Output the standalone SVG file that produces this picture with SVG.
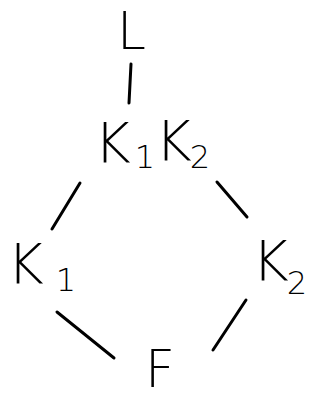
<svg xmlns="http://www.w3.org/2000/svg" width="320" height="400" viewBox="0 0 320 400">
<style>
.t{font-family:"DejaVu Sans","Liberation Sans",sans-serif;font-weight:200;fill:#000}
.m{font-size:56px}
.s{font-size:32px}
.b{font-size:52px}
.e{stroke:#000;stroke-width:3;stroke-linecap:round;fill:none}
</style>
<rect width="320" height="400" fill="#fff"/>
<g id="connectors">
<line class="e" x1="131" y1="64" x2="129" y2="103"/>
<line class="e" x1="80" y1="183" x2="52" y2="229"/>
<line class="e" x1="217" y1="182" x2="247" y2="217"/>
<line class="e" x1="57" y1="312" x2="114" y2="358"/>
<line class="e" x1="246" y1="300" x2="213" y2="350"/>
</g>
<g id="L"><text class="t b" x="117" y="49">L</text></g>
<g id="K1K2"><text class="t m" x="94" y="162">K<tspan class="s" dx="4" dy="6">1</tspan><tspan class="m" dx="0" dy="-8">K</tspan><tspan class="s" dx="-2" dy="8">2</tspan></text></g>
<g id="K1"><text class="t m" x="7" y="283">K<tspan class="s" dx="12" dy="8">1</tspan></text></g>
<g id="K2"><text class="t m" x="252" y="280">K<tspan class="s" dx="-2" dy="14">2</tspan></text></g>
<g id="F"><text class="t b" x="145" y="387">F</text></g>
</svg>
